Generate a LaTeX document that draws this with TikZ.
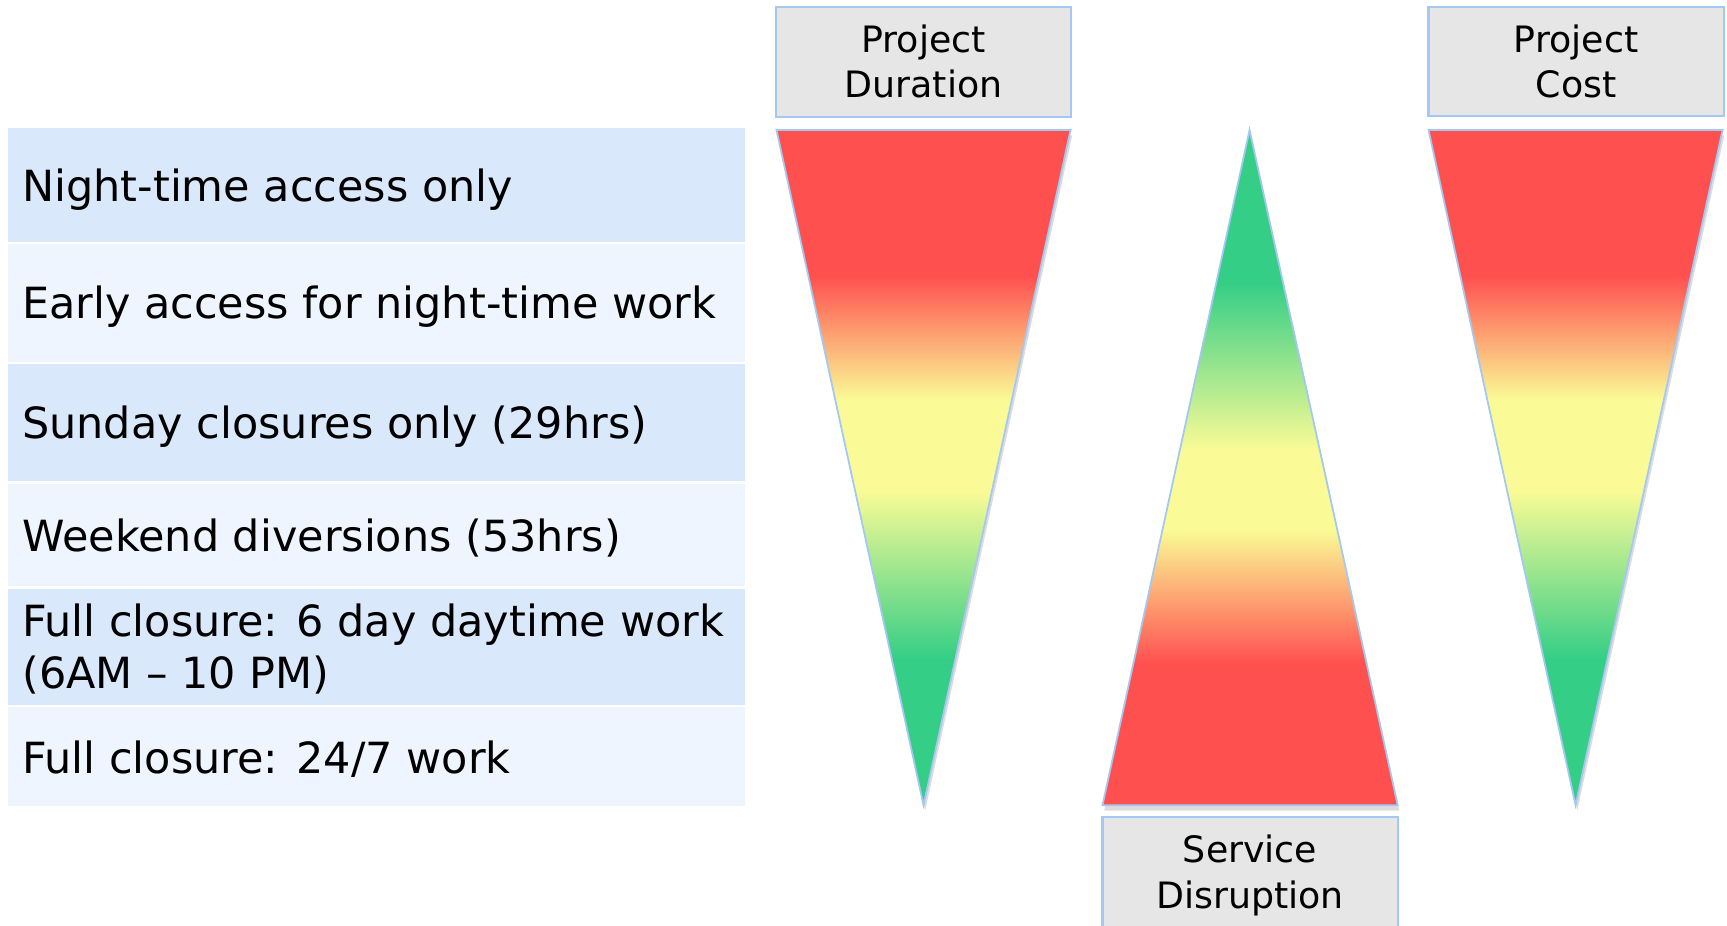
\documentclass[tikz,border=0pt]{standalone}
\usepackage{fontspec}
\setmainfont{DejaVu Sans}
\usetikzlibrary{shadows}
\definecolor{rowA}{HTML}{DAE8FC}
\definecolor{rowB}{HTML}{EEF5FE}
\definecolor{boxfill}{HTML}{E6E6E6}
\definecolor{edge}{HTML}{A4C8F4}
\definecolor{hred}{HTML}{FF5050}
\definecolor{hyel}{HTML}{FAFB96}
\definecolor{hgrn}{HTML}{34CE86}
\pgfdeclareverticalshading{riskdown}{100bp}{color(0bp)=(hgrn); color(35.8bp)=(hgrn); color(48.3bp)=(hyel); color(55bp)=(hyel); color(64.2bp)=(hred); color(100bp)=(hred)}
\pgfdeclareverticalshading{riskup}{100bp}{color(0bp)=(hred); color(35.5bp)=(hred); color(45.4bp)=(hyel); color(51.3bp)=(hyel); color(63.7bp)=(hgrn); color(100bp)=(hgrn)}
\begin{document}
\begin{tikzpicture}[x=1pt,y=-1pt,
  rowbox/.style={rectangle, draw=none, inner sep=0pt, minimum width=669pt},
  rowtext/.style={anchor=base west, inner sep=0pt, align=left, font=\fontsize{39}{47}\selectfont},
  graybox/.style={rectangle, draw=edge, line width=2pt, fill=boxfill, inner sep=0pt, minimum width=268pt},
  boxtext/.style={anchor=base, inner sep=0pt, align=center, font=\fontsize{33}{41}\selectfont},
  tri/.style={draw=edge, line width=1.6pt, line join=miter, drop shadow={opacity=0.28, shadow xshift=1.5pt, shadow yshift=-5pt}}]
\useasboundingbox (0,0) rectangle (1568,840.7);
% left panel rows
\node[rowbox, fill=rowA, minimum height=102.9pt] (r1) at (341.5,168.0) {};
\node[rowbox, fill=rowB, minimum height=106.9pt] (r2) at (341.5,275.0) {};
\node[rowbox, fill=rowA, minimum height=106.5pt] (r3) at (341.5,383.8) {};
\node[rowbox, fill=rowB, minimum height=93.2pt] (r4) at (341.5,485.8) {};
\node[rowbox, fill=rowA, minimum height=105.9pt] (r5) at (341.5,587.5) {};
\node[rowbox, fill=rowB, minimum height=89.3pt] (r6) at (341.5,686.9) {};
\node[rowtext] (t1) at (20,182.5) {Night-time access only};
\node[rowtext] (t2) at (20,289.5) {Early access for night-time work};
\node[rowtext] (t3) at (20,398.3) {Sunday closures only (29hrs)};
\node[rowtext] (t4) at (20,500.4) {Weekend diversions (53hrs)};
\node[rowtext] (t5) at (20,624.7) {Full closure: 6 day daytime work\\(6AM – 10 PM)};
\node[rowtext] (t6) at (20,702.0) {Full closure: 24/7 work};
% triangles
\path[tri, shading=riskdown] (705,118) -- (972,118) -- (838.5,731) -- cycle;
\path[tri, shading=riskup] (1134.5,118) -- (1269,731) -- (1001,731) -- cycle;
\path[tri, shading=riskdown] (1297,118) -- (1564,118) -- (1430.5,731) -- cycle;
% header boxes
\node[graybox, minimum height=100pt] (pd) at (838.5,56) {};
\node[boxtext] (pdl) at (838.5,88.7) {Project\\Duration};
\node[graybox, minimum height=99pt] (pc) at (1431,55.5) {};
\node[boxtext] (pcl) at (1431,88.7) {Project\\Cost};
\node[graybox, minimum height=104pt] (sd) at (1135,794) {};
\node[boxtext] (sdl) at (1135,824.4) {Service\\Disruption};
\end{tikzpicture}
\end{document}
